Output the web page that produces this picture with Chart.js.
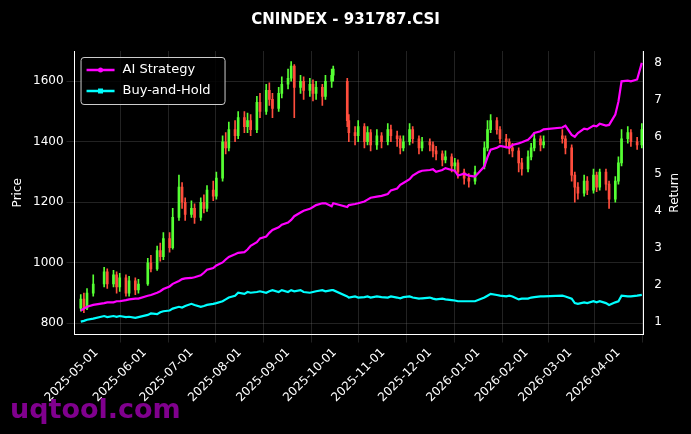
<!DOCTYPE html>
<html><head><meta charset="utf-8">
<script src="https://cdn.jsdelivr.net/npm/chart.js@4"></script>
<style>html,body{margin:0;background:#000;}</style>
</head><body><canvas id="c" width="691" height="434"></canvas>
<script>
const dates=["2025-04-21","2025-04-23","2025-04-25","2025-04-29","2025-05-06","2025-05-08","2025-05-12","2025-05-14","2025-05-16","2025-05-20","2025-05-22","2025-05-26","2025-05-28","2025-06-03","2025-06-05","2025-06-09","2025-06-11","2025-06-13","2025-06-17","2025-06-19","2025-06-23","2025-06-25","2025-06-27","2025-07-01","2025-07-03","2025-07-07","2025-07-09","2025-07-11","2025-07-15","2025-07-17","2025-07-21","2025-07-23","2025-07-25","2025-07-29","2025-07-31","2025-08-04","2025-08-06","2025-08-08","2025-08-12","2025-08-14","2025-08-18","2025-08-20","2025-08-22","2025-08-26","2025-08-28","2025-09-01","2025-09-03","2025-09-05","2025-09-09","2025-09-11","2025-09-15","2025-09-17","2025-09-19","2025-09-23","2025-09-25","2025-09-29","2025-09-30","2025-10-09","2025-10-10","2025-10-14","2025-10-16","2025-10-20","2025-10-22","2025-10-24","2025-10-28","2025-10-31","2025-11-04","2025-11-06","2025-11-10","2025-11-12","2025-11-14","2025-11-18","2025-11-20","2025-11-24","2025-11-26","2025-12-01","2025-12-03","2025-12-05","2025-12-09","2025-12-11","2025-12-15","2025-12-17","2025-12-19","2025-12-23","2025-12-26","2025-12-30","2026-01-05","2026-01-07","2026-01-09","2026-01-13","2026-01-15","2026-01-19","2026-01-21","2026-01-23","2026-01-27","2026-01-29","2026-02-02","2026-02-04","2026-02-06","2026-02-10","2026-02-12","2026-02-24","2026-02-26","2026-03-02","2026-03-04","2026-03-06","2026-03-10","2026-03-12","2026-03-16","2026-03-18","2026-03-20","2026-03-24","2026-03-26","2026-03-30","2026-04-01","2026-04-03","2026-04-07","2026-04-09","2026-04-13","2026-04-16"];
const opens=[850,880,850,900,930,970,930,960,920,950,900,940,910,930,1000,980,1040,1020,1080,1050,1150,1250,1200,1160,1180,1150,1200,1180,1240,1220,1280,1400,1380,1440,1420,1480,1450,1470,1440,1530,1500,1570,1540,1510,1560,1590,1610,1650,1580,1600,1570,1590,1560,1580,1550,1600,1620,1600,1470,1430,1420,1450,1400,1430,1390,1420,1400,1440,1420,1410,1380,1400,1440,1410,1380,1400,1390,1370,1360,1340,1350,1320,1330,1300,1280,1270,1320,1380,1440,1470,1440,1410,1400,1380,1370,1330,1310,1350,1380,1410,1390,1420,1410,1380,1290,1250,1230,1270,1240,1290,1250,1300,1260,1210,1270,1330,1410,1430,1400,1390];
const closes=[880,850,900,930,970,930,960,920,950,900,940,910,930,1000,980,1040,1020,1080,1050,1150,1250,1200,1160,1180,1150,1200,1180,1240,1220,1280,1400,1380,1440,1420,1480,1450,1470,1440,1530,1500,1570,1540,1510,1560,1590,1610,1650,1580,1600,1570,1590,1560,1580,1550,1600,1620,1640,1470,1430,1420,1450,1400,1430,1390,1420,1400,1440,1420,1410,1380,1400,1440,1410,1380,1400,1390,1370,1360,1340,1350,1320,1330,1300,1280,1270,1300,1380,1440,1470,1440,1410,1400,1380,1370,1330,1310,1350,1380,1410,1390,1400,1410,1380,1290,1250,1230,1270,1240,1290,1250,1300,1260,1210,1270,1330,1410,1430,1400,1390,1440];
const highs=[895,900,915,960,985,980,975,970,965,960,955,950,945,1015,1025,1055,1065,1100,1100,1180,1290,1265,1215,1205,1195,1215,1225,1255,1270,1300,1420,1430,1465,1470,1500,1500,1495,1490,1550,1560,1590,1595,1560,1580,1615,1640,1665,1655,1620,1615,1610,1605,1600,1590,1620,1640,1650,1610,1490,1450,1470,1460,1450,1440,1440,1430,1460,1455,1435,1420,1420,1460,1450,1420,1415,1410,1400,1385,1370,1370,1360,1345,1340,1310,1295,1320,1400,1470,1490,1480,1450,1425,1410,1395,1380,1345,1370,1395,1430,1420,1420,1440,1420,1390,1300,1265,1290,1285,1310,1300,1310,1310,1270,1285,1350,1440,1450,1440,1415,1460];
const lows=[840,835,845,890,920,915,920,900,905,890,890,895,900,925,970,975,1005,1010,1035,1045,1140,1180,1140,1150,1130,1140,1165,1170,1205,1210,1270,1360,1370,1400,1410,1430,1430,1420,1430,1480,1490,1520,1480,1500,1545,1575,1600,1480,1560,1540,1550,1535,1540,1520,1540,1580,1600,1450,1400,1390,1400,1380,1390,1370,1375,1380,1390,1400,1385,1360,1370,1390,1395,1360,1370,1370,1350,1340,1320,1330,1300,1300,1280,1260,1250,1260,1310,1370,1430,1425,1395,1380,1360,1350,1300,1290,1300,1340,1370,1370,1380,1395,1360,1270,1200,1210,1220,1225,1230,1235,1240,1240,1180,1200,1260,1320,1395,1385,1375,1380];
const aiReturn=[1.30,1.35,1.40,1.45,1.50,1.52,1.52,1.55,1.55,1.58,1.60,1.62,1.62,1.70,1.72,1.78,1.82,1.88,1.95,2.02,2.10,2.15,2.17,2.18,2.20,2.25,2.32,2.40,2.45,2.52,2.60,2.68,2.75,2.82,2.86,2.88,2.95,3.05,3.15,3.25,3.30,3.40,3.48,3.55,3.62,3.68,3.75,3.85,3.95,4.00,4.05,4.10,4.15,4.20,4.20,4.12,4.20,4.10,4.15,4.18,4.20,4.25,4.30,4.35,4.38,4.40,4.45,4.55,4.60,4.70,4.75,4.85,4.95,5.05,5.08,5.10,5.12,5.05,5.10,5.15,5.10,5.08,4.95,5.00,4.95,4.92,5.20,5.45,5.65,5.70,5.75,5.72,5.70,5.78,5.82,5.85,5.92,6.00,6.10,6.15,6.20,6.25,6.30,6.05,6.00,6.10,6.22,6.20,6.30,6.28,6.35,6.30,6.32,6.60,6.95,7.50,7.52,7.50,7.55,8.00];
const bhReturn=[1.00,1.02,1.05,1.08,1.15,1.12,1.15,1.13,1.15,1.12,1.13,1.10,1.12,1.18,1.22,1.20,1.25,1.28,1.30,1.35,1.40,1.38,1.42,1.48,1.45,1.40,1.42,1.45,1.48,1.50,1.55,1.60,1.65,1.70,1.78,1.75,1.80,1.78,1.80,1.82,1.78,1.82,1.85,1.80,1.85,1.80,1.85,1.82,1.85,1.80,1.78,1.80,1.82,1.85,1.82,1.85,1.85,1.68,1.65,1.68,1.65,1.66,1.68,1.65,1.68,1.66,1.65,1.68,1.65,1.63,1.66,1.68,1.65,1.62,1.63,1.65,1.62,1.60,1.62,1.60,1.58,1.57,1.55,1.55,1.55,1.55,1.65,1.70,1.75,1.72,1.70,1.68,1.70,1.68,1.60,1.62,1.62,1.65,1.66,1.68,1.68,1.70,1.68,1.62,1.50,1.48,1.52,1.50,1.55,1.52,1.55,1.50,1.45,1.52,1.55,1.70,1.68,1.68,1.70,1.72];
const monthTicks=["2025-05-01","2025-06-01","2025-07-01","2025-08-01","2025-09-01","2025-10-01","2025-11-01","2025-12-01","2026-01-01","2026-02-01","2026-03-01","2026-04-01"];

const DAY=86400000;
const t=s=>Date.parse(s+"T00:00:00Z")/DAY;
const xs=dates.map(t);
const up='#55ff33', dn='#ff4d3d';
const bodies=xs.map((x,i)=>({x:x,y:[opens[i],closes[i]]}));
const wicks=xs.map((x,i)=>({x:x,y:[lows[i],highs[i]]}));
const cols=closes.map((c,i)=>c>=opens[i]?up:dn);
const F='"DejaVu Sans"';
const deco={id:'deco',afterDraw(ch){const c=ch.ctx,a=ch.chartArea;c.save();
 c.fillStyle='#fff';c.font='bold 15px '+F;c.textAlign='center';c.fillText('CNINDEX - 931787.CSI',ch.width/2,24);
 c.font='12px '+F;
 c.save();c.translate(21,(a.top+a.bottom)/2);c.rotate(-Math.PI/2);c.fillText('Price',0,0);c.restore();
 c.save();c.translate(678,(a.top+a.bottom)/2);c.rotate(-Math.PI/2);c.fillText('Return',0,0);c.restore();
 const lx=a.left+6,ly=a.top+6;c.fillStyle='rgba(0,0,0,0.85)';c.strokeStyle='#ccc';c.lineWidth=1;
 c.beginPath();c.roundRect(lx+0.5,ly+0.5,144,47,3);c.fill();c.stroke();
 const items=[['AI Strategy','#ff00ff','circle'],['Buy-and-Hold','#00ffff','square']];
 items.forEach((it,k)=>{const yy=ly+13+k*21;c.strokeStyle=it[1];c.lineWidth=2.5;c.beginPath();c.moveTo(lx+6,yy);c.lineTo(lx+34,yy);c.stroke();
  c.fillStyle=it[1];c.beginPath();if(it[2]==='circle'){c.arc(lx+20,yy,2.5,0,7);}else{c.rect(lx+17.5,yy-2.5,5,5);}c.fill();
  c.fillStyle='#fff';c.font='13px '+F;c.textAlign='left';c.textBaseline='middle';c.fillText(it[0],lx+42,yy);});
 c.textBaseline='alphabetic';c.fillStyle='rgba(135,0,150,0.95)';c.font='bold 27px '+F;c.fillText('uqtool.com',10,418);
 c.restore();}};
const tgrid={color:'rgba(128,128,128,0.45)',borderDash:[3,3],lineWidth:0.6};
new Chart(document.getElementById('c'),{
 data:{datasets:[
  {type:'line',label:'AI Strategy',data:xs.map((x,i)=>({x,y:aiReturn[i]})),yAxisID:'yR',borderColor:'#ff00ff',borderWidth:2.2,pointRadius:0,order:1},
  {type:'line',label:'Buy-and-Hold',data:xs.map((x,i)=>({x,y:bhReturn[i]})),yAxisID:'yR',borderColor:'#00ffff',borderWidth:2.2,pointRadius:0,order:2},
  {type:'bar',label:'Body',data:bodies,yAxisID:'y',backgroundColor:cols,borderWidth:0,barThickness:2,grouped:false,order:3},
  {type:'bar',label:'Wick',data:wicks,yAxisID:'y',backgroundColor:cols,borderWidth:0,barThickness:1,grouped:false,order:4}
 ]},
 options:{responsive:false,animation:false,devicePixelRatio:1,
  layout:{padding:{top:51,right:26,left:30,bottom:26}},
  plugins:{legend:{display:false},tooltip:{enabled:false}},
  scales:{
   x:{type:'linear',min:t('2025-04-17'),max:t('2026-04-17'),offset:false,
    afterBuildTicks:s=>{s.ticks=monthTicks.map(m=>({value:t(m)}));},
    ticks:{color:'#fff',font:{family:F,size:12},maxRotation:45,minRotation:45,autoSkip:false,
     callback:v=>new Date(v*DAY).toISOString().slice(0,10)},
    grid:tgrid,border:{color:'#fff',width:1}},
   y:{position:'left',min:763,max:1700,
    afterBuildTicks:s=>{s.ticks=[800,1000,1200,1400,1600].map(v=>({value:v}));},
    ticks:{color:'#fff',font:{family:F,size:12},callback:v=>String(v)},grid:tgrid,border:{color:'#fff'}},
   yR:{position:'right',min:0.65,max:8.32,
    afterBuildTicks:s=>{s.ticks=[1,2,3,4,5,6,7,8].map(v=>({value:v}));},
    ticks:{color:'#fff',font:{family:F,size:12},callback:v=>String(v)},grid:{display:false},border:{color:'#fff'}}
  }},
 plugins:[deco]});
</script></body></html>
